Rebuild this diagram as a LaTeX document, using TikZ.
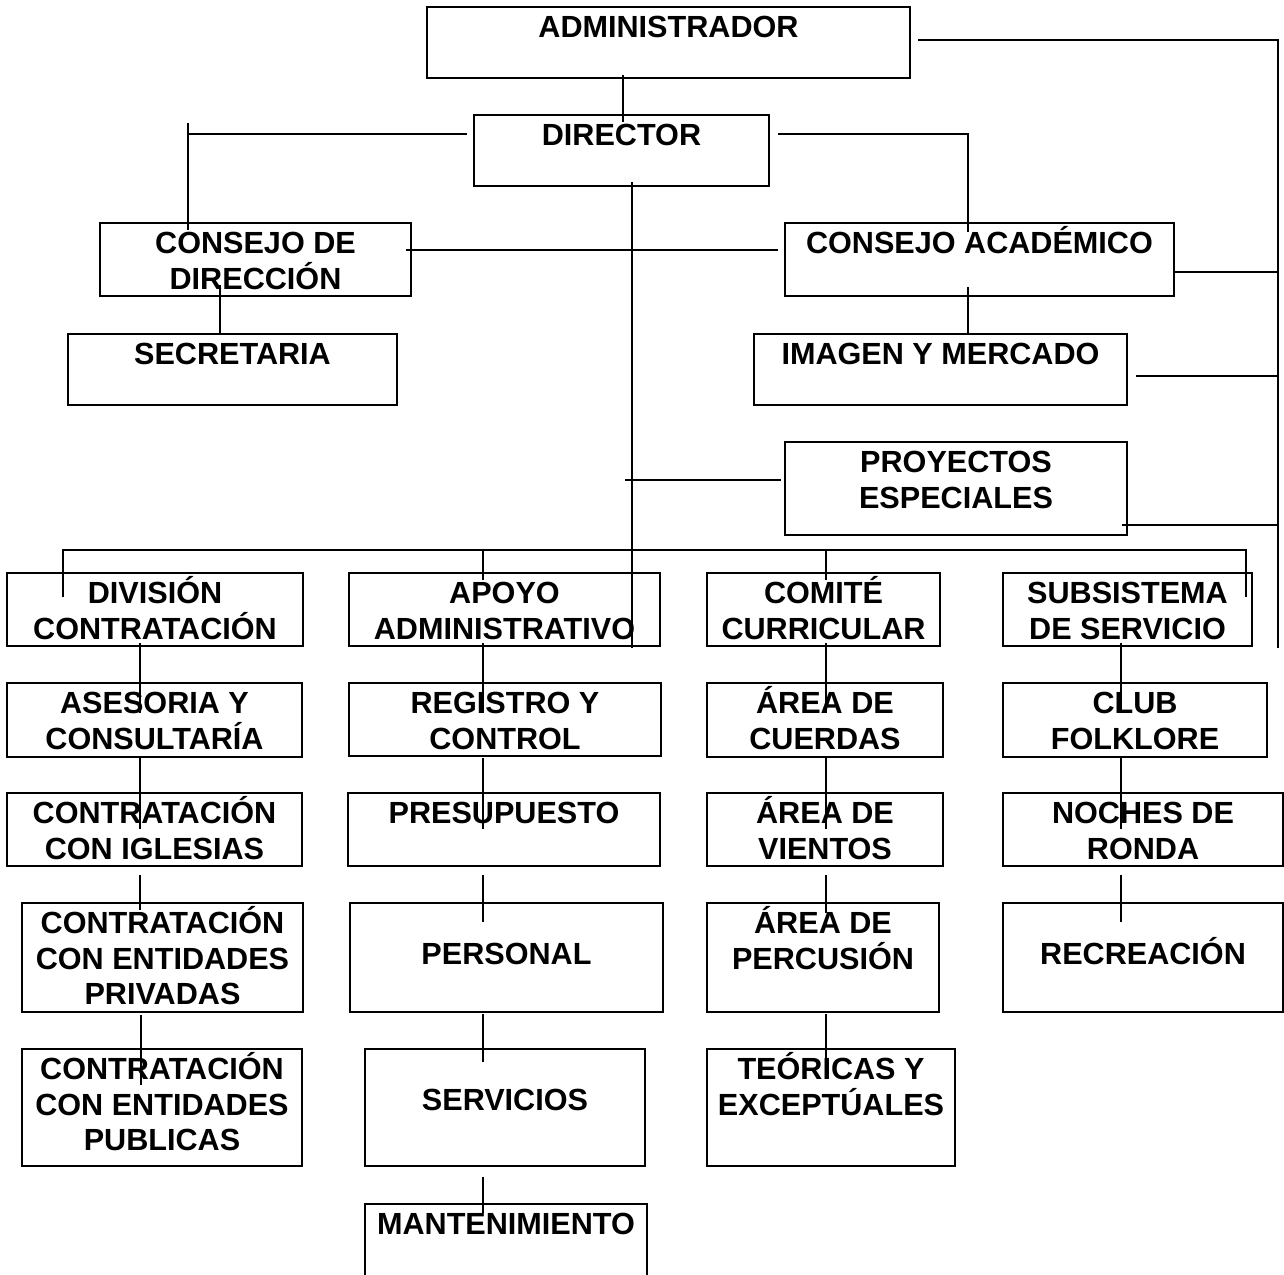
\documentclass[tikz,border=0pt]{standalone}
\usepackage{fontspec}
\setmainfont{Liberation Sans}
\usetikzlibrary{calc}
\tikzset{
  box/.style={draw, line width=1.1pt, inner sep=0pt, outer sep=0pt},
  lbl/.style={inner sep=0pt, outer sep=0pt, align=center, anchor=north,
    font=\fontsize{15.3pt}{17.75pt}\selectfont\bfseries},
  lblc/.style={inner sep=0pt, outer sep=0pt, align=center, anchor=center,
    text height=0.72em, text depth=0pt,
    font=\fontsize{15.3pt}{17.75pt}\selectfont\bfseries},
  conn/.style={line width=0.6pt},
  connb/.style={line width=0.9pt},
}
\newcommand\bx[5]{\node[box, minimum width={(#4-#2)*0.5pt}, minimum height={(#5-#3)*0.5pt}] (#1) at ({(#2+#4)/2},{(#3+#5)/2}) {};}
\newcommand\tx[2]{\node[lbl] (#1-t) at (#1.north) {\rule{0pt}{1em}#2};}
\newcommand\tc[3]{\node[lblc] (#1-t) at ($(#1.center)+(0,#2)$) {#3};}
\newcommand\vc[5]{\draw[conn] ($(#1.south -| #3,0)+(0,#4)$) -- ($(#2.north -| #3,0)+(0,#5)$);}
\begin{document}
\begin{tikzpicture}[x=0.5pt,y=-0.5pt]
\useasboundingbox (0,0) rectangle (1284,1274);
\fill[white] (0,0) rectangle (1284,1274);
% boxes
\bx{adm}{427}{7}{910}{78}
\bx{dir}{474}{115}{769}{186}
\bx{cdd}{100}{223}{411}{296}
\bx{sec}{68}{334}{397}{405}
\bx{cac}{785}{223}{1174}{296}
\bx{img}{754}{334}{1127}{405}
\bx{pro}{785}{442}{1127}{535}
\bx{div}{7}{573}{303}{646}
\bx{apo}{349}{573}{660}{646}
\bx{com}{707}{573}{940}{646}
\bx{sub}{1003}{573}{1252}{646}
\bx{ase}{7}{683}{302}{757}
\bx{reg}{349}{683}{661}{756}
\bx{cue}{707}{683}{943}{757}
\bx{club}{1003}{683}{1267}{757}
\bx{igl}{7}{793}{302}{866}
\bx{pre}{348}{793}{660}{866}
\bx{vie}{707}{793}{943}{866}
\bx{noc}{1003}{793}{1283}{866}
\bx{pri}{22}{903}{303}{1012}
\bx{per}{350}{903}{663}{1012}
\bx{perc}{707}{903}{939}{1012}
\bx{rec}{1003}{903}{1283}{1012}
\bx{pub}{22}{1049}{302}{1166}
\bx{ser}{365}{1049}{645}{1166}
\bx{teo}{707}{1049}{955}{1166}
\bx{man}{365}{1204}{647}{1300}
% texts
\tx{adm}{ADMINISTRADOR}
\tx{dir}{DIRECTOR}
\tx{cdd}{CONSEJO DE\\DIRECCIÓN}
\tx{sec}{SECRETARIA}
\tx{cac}{CONSEJO ACADÉMICO}
\tx{img}{IMAGEN Y MERCADO}
\tx{pro}{PROYECTOS\\ESPECIALES}
\tx{div}{DIVISIÓN\\CONTRATACIÓN}
\tx{apo}{APOYO\\ADMINISTRATIVO}
\tx{com}{COMITÉ\\CURRICULAR}
\tx{sub}{SUBSISTEMA\\DE SERVICIO}
\tx{ase}{ASESORIA Y\\CONSULTARÍA}
\tx{reg}{REGISTRO Y\\CONTROL}
\tx{cue}{ÁREA DE\\CUERDAS}
\tx{club}{CLUB\\FOLKLORE}
\tx{igl}{CONTRATACIÓN\\CON IGLESIAS}
\tx{pre}{PRESUPUESTO}
\tx{vie}{ÁREA DE\\VIENTOS}
\tx{noc}{NOCHES DE\\RONDA}
\tx{pri}{CONTRATACIÓN\\CON ENTIDADES\\PRIVADAS}
\tc{per}{0}{PERSONAL}
\tx{perc}{ÁREA DE\\PERCUSIÓN}
\tc{rec}{0}{RECREACIÓN}
\tx{pub}{CONTRATACIÓN\\CON ENTIDADES\\PUBLICAS}
\tc{ser}{-4}{SERVICIOS}
\tx{teo}{TEÓRICAS Y\\EXCEPTÚALES}
\tx{man}{MANTENIMIENTO}
% connectors: top part
\vc{adm}{dir}{623}{-3}{7}
\draw[conn] ($(dir.south -| 632,0)+(0,-4)$) -- ($(apo.south -| 632,0)+(0,2)$);
\draw[connb] ($(dir.north west)+(-7,19)$) -- ($(dir.north west -| 188,0)+(0,19)$);
\draw[conn] ($(dir.north west -| 188,0)+(0,8)$) -- ($(cdd.north -| 188,0)+(0,7)$);
\draw[connb] ($(dir.north east)+(9,19)$) -| ($(cac.north -| 968,0)+(0,9)$);
\draw[connb] ($(cdd.north east)+(-5,27)$) -- ($(cac.north west)+(-7,27)$);
\vc{cdd}{sec}{220}{-11}{0}
\vc{cac}{img}{968}{-9}{-1}
\draw[connb] ($(pro.west)+(-4,-8.5)$) -- ($(pro.west -| 625,0)+(0,-8.5)$);
% right side
\draw[connb] ($(adm.north east)+(8,33)$) -| ($(sub.south -| 1278,0)+(0,2)$);
\draw[connb] ($(cac.south east)+(0,-24)$) -- ($(cac.south east -| 1278,0)+(0,-24)$);
\draw[connb] ($(img.south east)+(9,-29)$) -- ($(img.south east -| 1278,0)+(0,-29)$);
\draw[connb] ($(pro.south east)+(-5,-10)$) -- ($(pro.south east -| 1278,0)+(0,-10)$);
% bus
\draw[connb] ($(div.north -| 63,0)+(0,24)$) -- ($(div.north -| 63,0)+(0,-23)$) -- ($(sub.north -| 1246,0)+(0,-23)$) -- ($(sub.north -| 1246,0)+(0,24)$);
\draw[conn] ($(apo.north -| 483,0)+(0,-23)$) -- ($(apo.north -| 483,0)+(0,7)$);
\draw[conn] ($(com.north -| 826,0)+(0,-23)$) -- ($(com.north -| 826,0)+(0,7)$);
% columns
\vc{div}{ase}{140}{-3}{30}
\vc{ase}{igl}{140}{1}{36}
\vc{igl}{pri}{140}{9}{7}
\vc{pri}{pub}{141}{3}{36}
\vc{apo}{reg}{483}{-3}{30}
\vc{reg}{pre}{483}{2}{36}
\vc{pre}{per}{483}{9}{19}
\vc{per}{ser}{483}{2}{13}
\vc{ser}{man}{483}{11}{9}
\vc{com}{cue}{826}{-3}{30}
\vc{cue}{vie}{826}{1}{36}
\vc{vie}{perc}{826}{9}{10}
\vc{perc}{teo}{826}{2}{9}
\vc{sub}{club}{1121}{-3}{30}
\vc{club}{noc}{1121}{1}{36}
\vc{noc}{rec}{1121}{9}{19}
\end{tikzpicture}
\end{document}
